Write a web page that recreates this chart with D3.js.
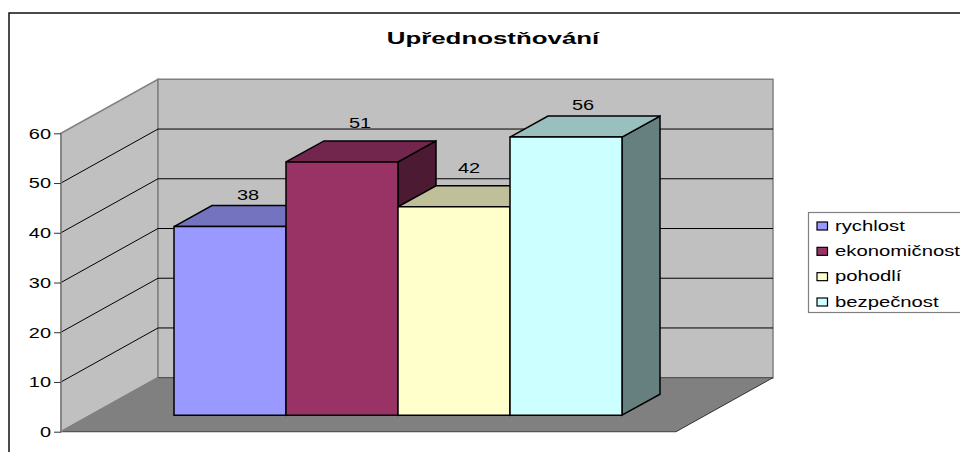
<!DOCTYPE html>
<html><head><meta charset="utf-8">
<script src="https://cdn.jsdelivr.net/npm/d3@7"></script>
<style>html,body{margin:0;background:#fff}svg{display:block}text{font-family:"Liberation Sans",Arial,sans-serif}</style>
</head><body><svg id="c" width="960" height="452"></svg>
<script>
const series = ["rychlost","ekonomičnost","pohodlí","bezpečnost"];
const values = [38,51,42,56];
const yTicks = [0,10,20,30,40,50,60];
const chartTitle = "Upřednostňování";
const frontColors = ["#9999ff","#993366","#ffffcc","#ccffff"];
const topColors = ["#7373bf","#73264d","#bfbf99","#99bfbf"];
const sideColors = ["#4d4d80","#4d1a33","#808066","#668080"];

const svg = d3.select("#c");
const y = d3.scaleLinear().domain([0,60]).range([431.7,133.3]);
const floorX = [61,676];
const depth = {dx:97, dy:-54};
const barDepth = {dx:38, dy:-21};
const barFront = {dx:29, dy:-16.5};
const labelLift = [5,13,12.5,6];
const labelShift = [-1,-1,-4,-2];
const x = d3.scaleBand().domain(series).range([145,593]).paddingInner(0).paddingOuter(0);

const poly = (pts,fill,stroke,sw)=>svg.append("polygon").attr("points",pts.map(p=>p.join(",")).join(" "))
  .attr("fill",fill).attr("stroke",stroke||"none").attr("stroke-width",sw||1).attr("stroke-linejoin","miter");
// The reference text is horizontally stretched
const stretch = (sel,f)=>sel.each(function(){
  d3.select(this).attr("textLength",this.getComputedTextLength()*f).attr("lengthAdjust","spacingAndGlyphs");
});

// outer frame
svg.append("rect").attr("x",9).attr("y",13).attr("width",960).attr("height",500).attr("fill","#fff").attr("stroke","#111").attr("stroke-width",1.5);

// title
svg.append("text").attr("x",493).attr("y",44).attr("text-anchor","middle").attr("font-size",17).attr("font-weight","bold").attr("fill","#000").text(chartTitle).call(stretch,1.52);

const y0=y(0), yT=y(60), L=floorX[0], R=floorX[1];
// side wall, back wall
poly([[L,y0],[L+depth.dx,y0+depth.dy],[L+depth.dx,yT+depth.dy],[L,yT]],"#c0c0c0","#808080",1.5);
poly([[L+depth.dx,y0+depth.dy],[R+depth.dx,y0+depth.dy],[R+depth.dx,yT+depth.dy],[L+depth.dx,yT+depth.dy]],"#c0c0c0","#808080",1.5);

// gridlines
yTicks.filter(t=>t>0&&t<60).forEach(t=>{
  svg.append("path").attr("fill","none").attr("stroke","#000").attr("stroke-width",1)
    .attr("d",`M${L},${y(t)}L${L+depth.dx},${y(t)+depth.dy}L${R+depth.dx},${y(t)+depth.dy}`);
});
// floor
poly([[L,y0],[R,y0],[R+depth.dx,y0+depth.dy],[L+depth.dx,y0+depth.dy]],"#808080");
svg.append("path").attr("fill","none").attr("stroke","#555").attr("stroke-width",1.2)
  .attr("d",`M${L},${y0}L${R},${y0}M${L+depth.dx},${y0+depth.dy}L${R+depth.dx},${y0+depth.dy}`);
svg.append("path").attr("fill","none").attr("stroke","#333").attr("stroke-width",1)
  .attr("d",`M${R},${y0}L${R+depth.dx},${y0+depth.dy}`);
svg.append("path").attr("fill","none").attr("stroke","#808080").attr("stroke-width",1.5)
  .attr("d",`M${L},${y0}L${L+depth.dx},${y0+depth.dy}`);

// y axis ticks and labels
const axis = d3.axisLeft(y).tickValues(yTicks).tickSize(7).tickPadding(3);
const ag = svg.append("g").attr("transform",`translate(${L},0)`).call(axis);
ag.select(".domain").attr("stroke","#808080").attr("stroke-width",1.5).attr("d",`M0,${yT}V${y0}`);
ag.selectAll(".tick line").attr("stroke","#333").attr("stroke-width",1);
ag.selectAll(".tick text").attr("font-size",15).attr("font-family",'"Liberation Sans"').attr("fill","#000").call(stretch,1.33);

// bars
series.forEach((s,i)=>{
  const v=values[i], x0=x(s)+barFront.dx, x1=x0+x.bandwidth(), yb=y(0)+barFront.dy, yt=y(v)+barFront.dy+0.4;
  const bx=barDepth.dx, by=barDepth.dy;
  poly([[x1,yb],[x1+bx,yb+by],[x1+bx,yt+by],[x1,yt]],sideColors[i],"#000",1.5);
  poly([[x0,yt],[x1,yt],[x1+bx,yt+by],[x0+bx,yt+by]],topColors[i],"#000",1.5);
  poly([[x0,yb],[x1,yb],[x1,yt],[x0,yt]],frontColors[i],"#000",1.5);
});
series.forEach((s,i)=>{
  const xc=x(s)+barFront.dx+x.bandwidth()/2+barDepth.dx/2+labelShift[i];
  svg.append("text").attr("x",xc).attr("y",y(values[i])+barFront.dy+barDepth.dy-labelLift[i])
    .attr("text-anchor","middle").attr("font-size",15).attr("fill","#000").text(values[i]).call(stretch,1.33);
});

// legend
svg.append("rect").attr("x",808.5).attr("y",212.5).attr("width",200).attr("height",100).attr("fill","#fff").attr("stroke","#808080").attr("stroke-width",1.2);
const ly=d3.scalePoint().domain(series).range([226,302]);
series.forEach((s,i)=>{
  svg.append("rect").attr("x",817).attr("y",ly(s)-4).attr("width",10.5).attr("height",8).attr("fill",frontColors[i]).attr("stroke","#000").attr("stroke-width",1.2);
  svg.append("text").attr("x",835).attr("y",ly(s)+4.5).attr("font-size",15).attr("fill","#000").text(s).call(stretch,1.35);
});
</script></body></html>
